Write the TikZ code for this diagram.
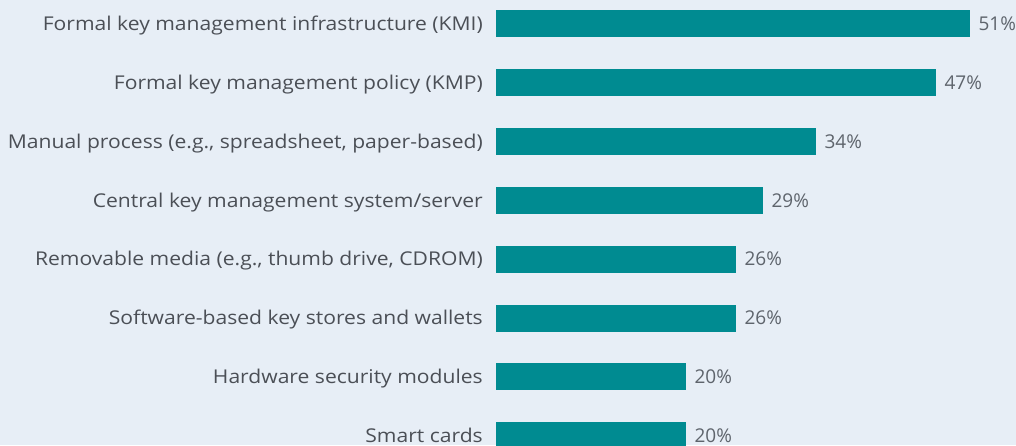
\documentclass[tikz,border=0pt]{standalone}
\usepackage{fontspec}
\usepackage{xcolor}
\usepackage{tikz}
\usetikzlibrary{positioning}
\setmainfont{Open Sans}
\newfontfamily\lblfont[FakeStretch=1.11]{Open Sans}

\definecolor{bgblue}{HTML}{E7EEF6}
\definecolor{barteal}{HTML}{008B91}
\definecolor{labelgrey}{HTML}{4B4F56}
\definecolor{pctgrey}{HTML}{5E646C}

\begin{document}
\begin{tikzpicture}[x=1pt, y=-1pt, node distance={13pt},
    bar/.style = {fill=barteal, anchor=west, inner sep=0pt, minimum height=27pt},
    lbl/.style = {text=labelgrey, inner sep=0pt, font=\lblfont\fontsize{19}{22}\selectfont, text height=13.6pt, text depth=0pt},
    pct/.style = {text=pctgrey, inner sep=0pt, font=\fontsize{19}{22}\selectfont, text height=13.6pt, text depth=0pt}]
    \clip (0,0) rectangle (1016,445);
    \fill[bgblue] (0,0) rectangle (1016,445);
    \node[bar, minimum width=474pt] (b1) at (496,23.5)  {};
    \node[bar, minimum width=440pt] (b2) at (496,82.4)  {};
    \node[bar, minimum width=320pt] (b3) at (496,141.3) {};
    \node[bar, minimum width=267pt] (b4) at (496,200.2) {};
    \node[bar, minimum width=240pt] (b5) at (496,259.1) {};
    \node[bar, minimum width=240pt] (b6) at (496,318)   {};
    \node[bar, minimum width=190pt] (b7) at (496,376.9) {};
    \node[bar, minimum width=190pt] (b8) at (496,435.8) {};
    \node[lbl] (l1) [left=of b1] {Formal key management infrastructure (KMI)};
    \node[lbl] (l2) [left=of b2] {Formal key management policy (KMP)};
    \node[lbl] (l3) [left=of b3] {Manual process (e.g., spreadsheet, paper-based)};
    \node[lbl] (l4) [left=of b4] {Central key management system/server};
    \node[lbl] (l5) [left=of b5] {Removable media (e.g., thumb drive, CDROM)};
    \node[lbl] (l6) [left=of b6] {Software-based key stores and wallets};
    \node[lbl] (l7) [left=of b7] {Hardware security modules};
    \node[lbl] (l8) [left=of b8] {Smart cards};
    \node[pct] (p1) [right=8pt of b1] {51\%};
    \node[pct] (p2) [right=8pt of b2] {47\%};
    \node[pct] (p3) [right=8pt of b3] {34\%};
    \node[pct] (p4) [right=8pt of b4] {29\%};
    \node[pct] (p5) [right=8pt of b5] {26\%};
    \node[pct] (p6) [right=8pt of b6] {26\%};
    \node[pct] (p7) [right=8pt of b7] {20\%};
    \node[pct] (p8) [right=8pt of b8] {20\%};
\end{tikzpicture}
\end{document}
